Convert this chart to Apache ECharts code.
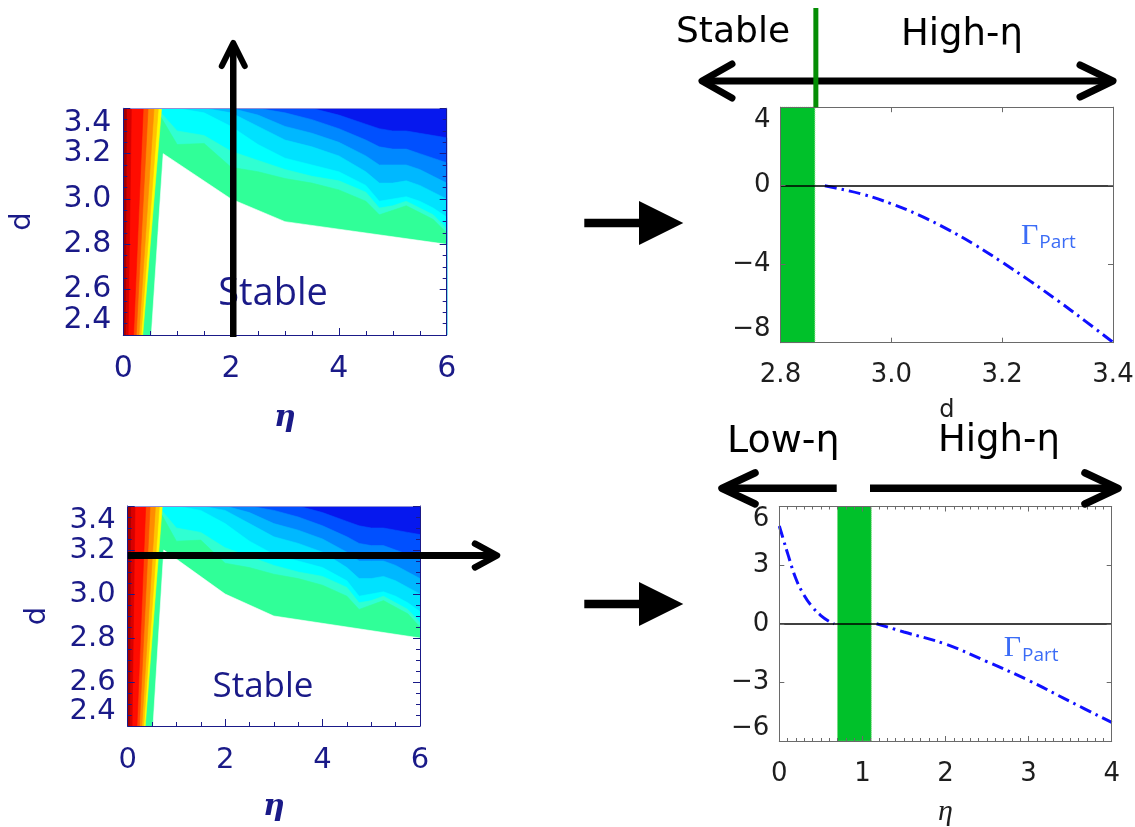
<!DOCTYPE html>
<html>
<head>
<meta charset="utf-8">
<script src="https://cdn.jsdelivr.net/npm/echarts@6/dist/echarts.min.js"></script>
<style>
  html, body { margin: 0; padding: 0; background: #ffffff; }
  #chart { width: 1135px; height: 827px; }
</style>
</head>
<body>
<div id="chart"></div>
<script>
// ---- stability map (η vs d): filled contour levels ----
// upper boundary d of each level, sampled at these η nodes
const etaNodes   = [0, 0.7, 1.0, 1.5, 2.0, 2.5, 3.0, 3.5, 4.0, 4.5, 4.75, 5.0, 5.25, 5.5, 5.75, 6.0];
const dDeepBlue  = [3.4, 3.4, 3.4, 3.4, 3.4, 3.4, 3.4, 3.4, 3.4, 3.4, 3.4, 3.4, 3.4, 3.4, 3.4, 3.4];
const dBlue      = [3.4, 3.4, 3.4, 3.4, 3.4, 3.4, 3.4, 3.4, 3.37, 3.33, 3.31, 3.3, 3.3, 3.29, 3.28, 3.27];
const dMidBlue   = [3.4, 3.4, 3.4, 3.4, 3.4, 3.4, 3.38, 3.35, 3.31, 3.26, 3.23, 3.22, 3.22, 3.2, 3.18, 3.16];
const dSkyBlue   = [3.4, 3.4, 3.4, 3.4, 3.4, 3.37, 3.32, 3.29, 3.25, 3.19, 3.15, 3.15, 3.15, 3.13, 3.1, 3.07];
const dLightBlue = [3.4, 3.4, 3.4, 3.4, 3.38, 3.32, 3.26, 3.23, 3.19, 3.12, 3.07, 3.07, 3.08, 3.06, 3.03, 3.0];
const dCyan      = [3.4, 3.4, 3.4, 3.38, 3.32, 3.24, 3.18, 3.15, 3.12, 3.06, 2.99, 3.0, 3.01, 2.99, 2.96, 2.92];
const dAqua      = [3.4, 3.38, 3.3, 3.28, 3.21, 3.17, 3.13, 3.1, 3.08, 3.03, 2.96, 2.97, 2.99, 2.96, 2.93, 2.87];
const dGreen     = [3.36, 3.36, 3.24, 3.245, 3.14, 3.12, 3.09, 3.07, 3.04, 2.99, 2.93, 2.95, 2.97, 2.94, 2.91, 2.85];
const levelBounds = [dDeepBlue, dBlue, dMidBlue, dSkyBlue, dLightBlue, dCyan, dAqua, dGreen];
const levelColors = ['#0618ee', '#0050ff', '#0088ff', '#00b8ff', '#00e2ff', '#00ffff', '#30ffd2', '#30ff98'];

// stable (white) region outline
const stableEta = [0.52, 0.74, 2.0, 3.0, 6.0, 6.0];
const stableD   = [2.4, 3.2, 3.0, 2.9, 2.8, 2.4];

// low-η strip: right edge of each colour band at d = 2.4 and d = 3.4
const bandColors     = ['#ffff00', '#ffc400', '#ff8c00', '#ff4c00', '#ff0c00', '#d80000', '#a40000'];
const bandEdgeBottom = [0.36, 0.33, 0.29, 0.24, 0.19, 0.09, 0.04];
const bandEdgeTop    = [0.71, 0.65, 0.57, 0.46, 0.37, 0.15, 0.06];

// ---- growth-rate cuts ----
const cutD_d     = [2.88, 2.9, 2.95, 3.0, 3.05, 3.1, 3.15, 3.2, 3.25, 3.3, 3.35, 3.4];
const cutD_gamma = [0, -0.12, -0.45, -0.92, -1.5, -2.2, -3.0, -3.9, -4.85, -5.85, -6.9, -7.98];

const cutEtaLow_eta    = [0, 0.05, 0.1, 0.2, 0.3, 0.4, 0.5, 0.6, 0.66];
const cutEtaLow_gamma  = [5.0, 4.3, 3.6, 2.3, 1.45, 0.85, 0.42, 0.12, 0];
const cutEtaHigh_eta   = [1.17, 1.5, 2.0, 2.5, 3.0, 3.5, 4.0];
const cutEtaHigh_gamma = [0, -0.42, -1.04, -1.94, -2.9, -3.98, -5.05];

// green marginal bands
const bandD   = [2.8, 2.862];
const bandEta = [0.7, 1.107];

// tick ranges
const mapEtaRange = [0, 6];
const mapDRange   = [2.4, 3.4];
const cutDRange   = [2.8, 3.4];
const cutDGamma   = [-8, 4];
const cutEtaRange = [0, 4];
const cutEtaGamma = [-6, 6];

const navy = '#1a1a88';
const ink = '#1e1e1e';
const frame = '#6a6a6a';

function minusFmt(v) { return v < 0 ? '\u2212' + Math.abs(v) : String(v); }

// polygons of the filled map, drawn back to front
function mapPolygons() {
  const polys = [];
  levelBounds.forEach((b, i) => {
    const pts = etaNodes.map((e, k) => [e, b[k]]);
    pts.push([mapEtaRange[1], mapDRange[0]], [mapEtaRange[0], mapDRange[0]]);
    polys.push({ pts, color: levelColors[i] });
  });
  polys.push({ pts: stableEta.map((e, k) => [e, stableD[k]]), color: '#ffffff' });
  bandColors.forEach((c, i) => {
    polys.push({
      pts: [[0, mapDRange[0]], [bandEdgeBottom[i], mapDRange[0]], [bandEdgeTop[i], mapDRange[1]], [0, mapDRange[1]]],
      color: c
    });
  });
  return polys;
}
const polys = mapPolygons();

function mapSeries(xi, yi) {
  return {
    type: 'custom', xAxisIndex: xi, yAxisIndex: yi, silent: true, z: 1,
    clip: true,
    data: polys.map((p, i) => [p.pts[0][0], p.pts[0][1], i]),
    renderItem: function (params, api) {
      const p = polys[params.dataIndex];
      return {
        type: 'polygon',
        shape: { points: p.pts.map(q => api.coord(q)) },
        style: { fill: p.color, stroke: p.color, lineWidth: 0.6 }
      };
    }
  };
}

function mapAxes(gi, fontSize, labelMargin, nameGapX, nameGapY) {
  const common = { gridIndex: gi, type: 'value', z: 6, splitLine: { show: false } };
  const xs = [
    Object.assign({}, common, {
      position: 'bottom', min: mapEtaRange[0], max: mapEtaRange[1], interval: 2,
      axisLine: { show: true, onZero: false, lineStyle: { color: navy, width: 1 } },
      axisTick: { show: true, inside: true, length: 7, lineStyle: { color: navy, width: 1 } },
      minorTick: { show: true, splitNumber: 4, length: 4, lineStyle: { color: navy, width: 1 } },
      axisLabel: { color: navy, fontSize: fontSize, fontFamily: 'DejaVu Sans', margin: labelMargin },
      name: 'η', nameLocation: 'middle', nameGap: nameGapX,
      nameTextStyle: { color: navy, fontSize: 30, fontFamily: 'DejaVu Serif', fontStyle: 'italic', fontWeight: 'bold' }
    }),
    Object.assign({}, common, {
      position: 'top', min: mapEtaRange[0], max: mapEtaRange[1], interval: 2,
      axisLine: { show: true, onZero: false, lineStyle: { color: '#8f8fd6', width: 1 } },
      axisTick: { show: false }, axisLabel: { show: false }
    })
  ];
  const ys = [
    Object.assign({}, common, {
      position: 'left', min: mapDRange[0], max: mapDRange[1], interval: 0.2,
      axisLine: { show: true, onZero: false, lineStyle: { color: navy, width: 1 } },
      axisTick: { show: true, inside: true, length: 7, lineStyle: { color: navy, width: 1 } },
      minorTick: { show: true, splitNumber: 4, length: 4, lineStyle: { color: navy, width: 1 } },
      axisLabel: {
        color: navy, fontSize: fontSize, fontFamily: 'DejaVu Sans', margin: 12,
        formatter: v => v.toFixed(1),
        verticalAlignMinLabel: 'bottom', verticalAlignMaxLabel: 'top'
      },
      name: 'd', nameLocation: 'middle', nameGap: nameGapY, nameRotate: 90,
      nameTextStyle: { color: navy, fontSize: 29, fontFamily: 'DejaVu Sans' }
    }),
    Object.assign({}, common, {
      position: 'right', min: mapDRange[0], max: mapDRange[1], interval: 0.2,
      axisLine: { show: true, onZero: false, lineStyle: { color: navy, width: 1 } },
      axisTick: { show: true, inside: true, length: 7, lineStyle: { color: navy, width: 1 } },
      minorTick: { show: true, splitNumber: 4, length: 4, lineStyle: { color: navy, width: 1 } },
      axisLabel: { show: false }
    })
  ];
  return { xs, ys };
}

function cutAxes(gi, xr, xInt, xMinorSplit, yr, yInt, xFmt, xName, xNameStyle, xNameGap) {
  const common = { gridIndex: gi, type: 'value', z: 6, splitLine: { show: false } };
  const line = { show: true, onZero: false, lineStyle: { color: frame, width: 1 } };
  const tick = { show: true, inside: true, length: 5, lineStyle: { color: frame, width: 1 } };
  const minor = { show: xMinorSplit > 0, splitNumber: xMinorSplit || 5, length: 3, lineStyle: { color: frame, width: 1 } };
  const label = { color: ink, fontSize: 26, fontFamily: 'DejaVu Sans' };
  const xs = [
    Object.assign({}, common, {
      position: 'bottom', min: xr[0], max: xr[1], interval: xInt,
      axisLine: line, axisTick: tick, minorTick: minor,
      axisLabel: Object.assign({}, label, { margin: 20, formatter: xFmt }),
      name: xName, nameLocation: 'middle', nameGap: xNameGap, nameTextStyle: xNameStyle
    }),
    Object.assign({}, common, {
      position: 'top', min: xr[0], max: xr[1], interval: xInt,
      axisLine: line, axisTick: tick, minorTick: minor, axisLabel: { show: false }
    })
  ];
  const ys = [
    Object.assign({}, common, {
      position: 'left', min: yr[0], max: yr[1], interval: yInt,
      axisLine: line, axisTick: tick,
      axisLabel: Object.assign({}, label, {
        margin: 10, formatter: minusFmt,
        verticalAlignMinLabel: 'bottom', verticalAlignMaxLabel: 'top'
      })
    }),
    Object.assign({}, common, {
      position: 'right', min: yr[0], max: yr[1], interval: yInt,
      axisLine: line, axisTick: tick, axisLabel: { show: false }
    })
  ];
  return { xs, ys };
}

const a0 = mapAxes(0, 30, 19, 68, 86);
const a1 = mapAxes(1, 29, 20, 66, 76);
const a2 = cutAxes(2, cutDRange, 0.2, 0, cutDGamma, 4, v => v.toFixed(1), 'd',
  { color: ink, fontSize: 24, fontFamily: 'DejaVu Sans' }, 56);
const a3 = cutAxes(3, cutEtaRange, 1, 10, cutEtaGamma, 3, v => String(v), 'η',
  { color: ink, fontSize: 30, fontFamily: 'Liberation Serif', fontStyle: 'italic' }, 56);

const curveStyle = { color: '#1010ff', width: 3, type: [12, 5, 2.5, 5] };
const gammaColor = '#3b6cf6';

function curveSeries(xi, yi, xs, ys) {
  return {
    type: 'line', xAxisIndex: xi, yAxisIndex: yi, z: 2,
    data: xs.map((x, k) => [x, ys[k]]),
    smooth: 0.4, showSymbol: false, symbol: 'none', silent: true,
    lineStyle: curveStyle
  };
}
function greenBandSeries(xi, yi, xr, yr) {
  return {
    type: 'line', xAxisIndex: xi, yAxisIndex: yi, z: 3, data: [], silent: true,
    markArea: {
      silent: true,
      itemStyle: { color: '#00c12a', borderColor: '#7ad87a', borderWidth: 1, borderType: 'dotted' },
      data: [[{ coord: [xr[0], yr[0]] }, { coord: [xr[1], yr[1]] }]]
    }
  };
}
function zeroLineSeries(xi, yi) {
  return {
    type: 'line', xAxisIndex: xi, yAxisIndex: yi, z: 4, data: [], silent: true,
    markLine: {
      silent: true, symbol: 'none', label: { show: false },
      lineStyle: { color: '#000000', width: 1.5, type: 'solid' },
      data: [{ yAxis: 0 }]
    }
  };
}

const option = {
  animation: false,
  backgroundColor: '#ffffff',
  grid: [
    { left: 123.3, top: 108.3, width: 323.4, height: 226.7, outerBoundsMode: 'none' },
    { left: 127.7, top: 506, width: 292.3, height: 220, outerBoundsMode: 'none' },
    { left: 780.5, top: 107.2, width: 332.5, height: 235.5, outerBoundsMode: 'none' },
    { left: 779.3, top: 506.5, width: 332.4, height: 234.5, outerBoundsMode: 'none' }
  ],
  xAxis: [].concat(a0.xs, a1.xs, a2.xs, a3.xs),
  yAxis: [].concat(a0.ys, a1.ys, a2.ys, a3.ys),
  series: [
    mapSeries(0, 0),
    mapSeries(2, 2),
    curveSeries(4, 4, cutD_d, cutD_gamma),
    greenBandSeries(4, 4, bandD, cutDGamma),
    zeroLineSeries(4, 4),
    curveSeries(6, 6, cutEtaLow_eta, cutEtaLow_gamma),
    curveSeries(6, 6, cutEtaHigh_eta, cutEtaHigh_gamma),
    greenBandSeries(6, 6, bandEta, cutEtaGamma),
    zeroLineSeries(6, 6)
  ]
};

const chart = echarts.init(document.getElementById('chart'), null, { renderer: 'canvas' });
chart.setOption(option);

// ---- annotations: arrows, regime names, curve labels ----
function chevron(tip, back, half, horizontal, dir) {
  if (horizontal) {
    return [[tip[0] - dir * back, tip[1] - half], tip, [tip[0] - dir * back, tip[1] + half]];
  }
  return [[tip[0] - half, tip[1] - dir * back], tip, [tip[0] + half, tip[1] - dir * back]];
}
const stroke = (w, cap) => ({ stroke: '#000000', lineWidth: w, lineCap: cap || 'round', lineJoin: 'round', fill: null });

function blockArrow(y) {
  const x0 = 584.3, x1 = 639, x2 = 683.3, h = 4.2, H = 22;
  return {
    type: 'polygon', silent: true,
    shape: { points: [[x0, y - h], [x1, y - h], [x1, y - H], [x2, y], [x1, y + H], [x1, y + h], [x0, y + h]] },
    style: { fill: '#000000' }
  };
}

const regimeFont = { fontSize: 36, fontFamily: 'DejaVu Sans', fill: '#000000' };

// d-cut: scan position along η, and η-cut: scan position along d
const scanEta = 2.04;
const scanD = 3.175;
const pScanTop = chart.convertToPixel({ gridIndex: 0 }, [scanEta, mapDRange[0]]);
const pScanLeft = chart.convertToPixel({ gridIndex: 1 }, [mapEtaRange[0], scanD]);
const pBandEdge = chart.convertToPixel({ gridIndex: 2 }, [bandD[1], cutDGamma[1]]);
const pGammaTop = chart.convertToPixel({ gridIndex: 2 }, [3.234, -2.55]);
const pGammaBot = chart.convertToPixel({ gridIndex: 3 }, [2.7, -1.25]);

const gammaRich = {
  g: { fontSize: 30, fontFamily: 'Liberation Serif', fill: gammaColor, color: gammaColor },
  s: { fontSize: 19, fontFamily: 'Open Sans', fill: gammaColor, color: gammaColor, padding: [14, 0, 0, 1] }
};

const graphics = [
  // vertical scan arrow on the upper map
  { type: 'line', silent: true, shape: { x1: pScanTop[0], y1: pScanTop[1] + 2, x2: pScanTop[0], y2: 44 }, style: stroke(6.5, 'butt'), z: 50 },
  { type: 'polyline', silent: true, shape: { points: chevron([pScanTop[0], 43], 23, 11.5, false, -1) }, style: stroke(6), z: 50 },
  // horizontal scan arrow on the lower map
  { type: 'line', silent: true, shape: { x1: pScanLeft[0], y1: pScanLeft[1], x2: 496, y2: pScanLeft[1] }, style: stroke(7, 'butt'), z: 50 },
  { type: 'polyline', silent: true, shape: { points: chevron([497, pScanLeft[1]], 22, 11.8, true, 1) }, style: stroke(6.5), z: 50 },
  // block arrows between columns
  blockArrow(223),
  blockArrow(604),
  // green marker above the d-cut
  { type: 'line', silent: true, shape: { x1: pBandEdge[0] + 1, y1: 8, x2: pBandEdge[0] + 1, y2: pBandEdge[1] }, style: { stroke: '#058e05', lineWidth: 5 }, z: 50 },
  // double arrow above the d-cut
  { type: 'line', silent: true, shape: { x1: 704, y1: 81, x2: 1111, y2: 81 }, style: stroke(7, 'butt'), z: 49 },
  { type: 'polyline', silent: true, shape: { points: chevron([702, 81], 30, 17, true, -1) }, style: stroke(7), z: 49 },
  { type: 'polyline', silent: true, shape: { points: chevron([1113, 81], 33, 16, true, 1) }, style: stroke(7), z: 49 },
  { type: 'text', silent: true, style: Object.assign({ text: 'Stable', x: 676, y: 51, textVerticalAlign: 'bottom' }, regimeFont) },
  { type: 'text', silent: true, style: Object.assign({ text: 'High-η', x: 901, y: 54, textVerticalAlign: 'bottom', fontSize: 37 }, { fontFamily: 'DejaVu Sans', fill: '#000000' }) },
  // arrows above the η-cut
  { type: 'line', silent: true, shape: { x1: 724, y1: 488.3, x2: 836.7, y2: 488.3 }, style: stroke(7.5, 'butt'), z: 49 },
  { type: 'polyline', silent: true, shape: { points: chevron([722, 488.3], 33, 15.5, true, -1) }, style: stroke(7.5), z: 49 },
  { type: 'line', silent: true, shape: { x1: 870, y1: 488.3, x2: 1116, y2: 488.3 }, style: stroke(7.5, 'butt'), z: 49 },
  { type: 'polyline', silent: true, shape: { points: chevron([1118, 488.3], 33, 15.5, true, 1) }, style: stroke(7.5), z: 49 },
  { type: 'text', silent: true, style: Object.assign({ text: 'Low-η', x: 727, y: 461, textVerticalAlign: 'bottom', fontSize: 38 }, { fontFamily: 'DejaVu Sans', fill: '#000000' }) },
  { type: 'text', silent: true, style: Object.assign({ text: 'High-η', x: 938, y: 460, textVerticalAlign: 'bottom', fontSize: 37 }, { fontFamily: 'DejaVu Sans', fill: '#000000' }) },
  // stable-region labels on the maps
  { type: 'text', silent: true, z: 40, style: { text: 'Stable', x: 273, y: 294, textAlign: 'center', textVerticalAlign: 'middle', fontSize: 38, fontFamily: 'Open Sans', fill: navy } },
  { type: 'text', silent: true, z: 40, style: { text: 'Stable', x: 263, y: 687, textAlign: 'center', textVerticalAlign: 'middle', fontSize: 35, fontFamily: 'Open Sans', fill: navy } },
  // curve labels
  { type: 'text', silent: true, z: 40, style: { text: '{g|Γ}{s|Part}', x: pGammaTop[0], y: pGammaTop[1], textVerticalAlign: 'middle', rich: gammaRich } },
  { type: 'text', silent: true, z: 40, style: { text: '{g|Γ}{s|Part}', x: pGammaBot[0], y: pGammaBot[1], textVerticalAlign: 'middle', rich: gammaRich } }
];
chart.setOption({ graphic: graphics });
</script>
</body>
</html>
